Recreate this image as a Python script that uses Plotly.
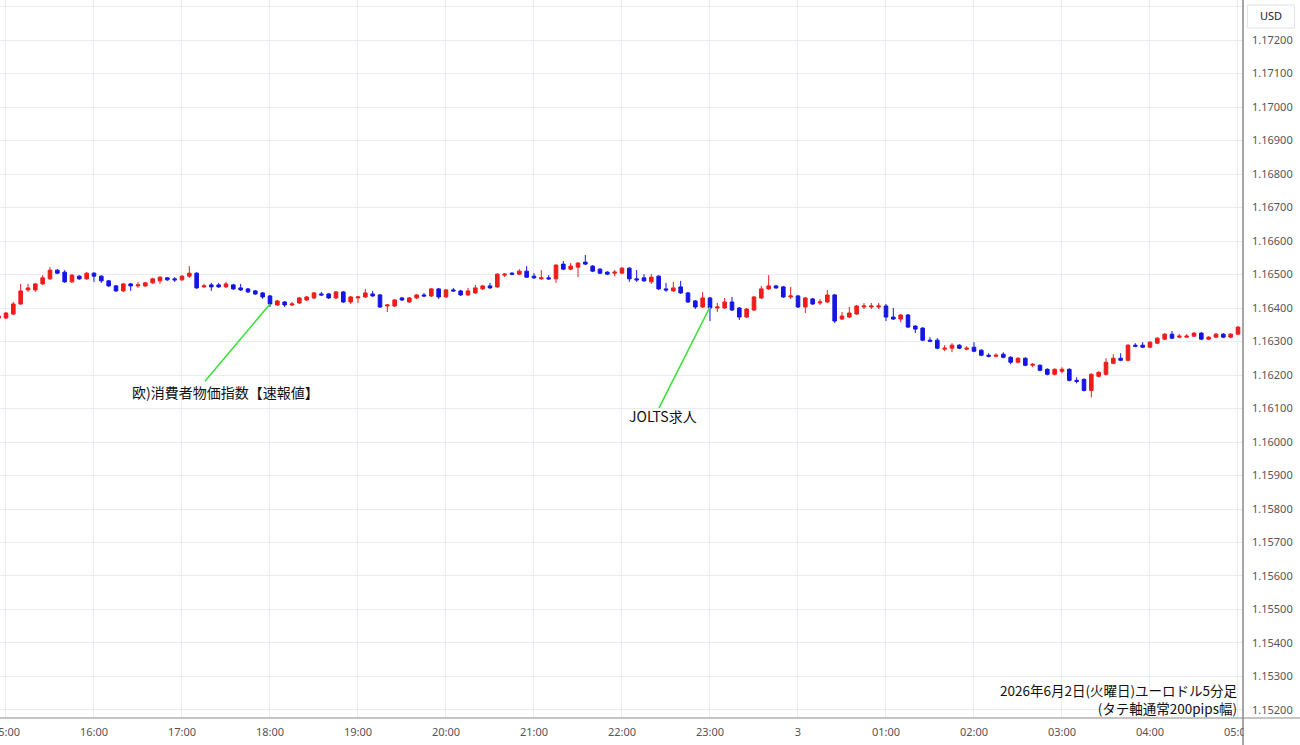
import plotly.graph_objects as go
import pandas as pd

# ---------------- data (EUR/USD 5-minute candles, 2026-06-02 14:55 -> 06-03 05:00)
start_time = "2026-06-02 14:55"

opens = [
    1.16370, 1.16370, 1.16382, 1.16412, 1.16454, 1.16454, 1.16472, 1.16487, 1.16513, 1.16507,
    1.16478, 1.16495, 1.16487, 1.16504, 1.16495, 1.16481, 1.16466, 1.16451, 1.16472, 1.16466,
    1.16466, 1.16475, 1.16481, 1.16490, 1.16487, 1.16484, 1.16495, 1.16504, 1.16463, 1.16469,
    1.16469, 1.16463, 1.16469, 1.16460, 1.16457, 1.16451, 1.16445, 1.16436, 1.16409, 1.16418,
    1.16409, 1.16415, 1.16424, 1.16430, 1.16442, 1.16442, 1.16430, 1.16448, 1.16418, 1.16430,
    1.16433, 1.16442, 1.16439, 1.16406, 1.16406, 1.16430, 1.16418, 1.16430, 1.16439, 1.16436,
    1.16457, 1.16433, 1.16454, 1.16451, 1.16439, 1.16445, 1.16457, 1.16466, 1.16463, 1.16498,
    1.16504, 1.16501, 1.16510, 1.16495, 1.16487, 1.16490, 1.16487, 1.16531, 1.16516, 1.16522,
    1.16537, 1.16525, 1.16516, 1.16507, 1.16504, 1.16504, 1.16519, 1.16487, 1.16490, 1.16478,
    1.16495, 1.16457, 1.16451, 1.16463, 1.16445, 1.16421, 1.16403, 1.16430, 1.16400, 1.16400,
    1.16418, 1.16400, 1.16373, 1.16394, 1.16430, 1.16457, 1.16466, 1.16463, 1.16433, 1.16436,
    1.16403, 1.16427, 1.16415, 1.16418, 1.16439, 1.16367, 1.16373, 1.16382, 1.16403, 1.16403,
    1.16403, 1.16406, 1.16373, 1.16367, 1.16379, 1.16346, 1.16340, 1.16304, 1.16304, 1.16277,
    1.16280, 1.16289, 1.16277, 1.16283, 1.16274, 1.16259, 1.16256, 1.16262, 1.16253, 1.16238,
    1.16250, 1.16229, 1.16229, 1.16217, 1.16202, 1.16211, 1.16217, 1.16184, 1.16187, 1.16154,
    1.16196, 1.16202, 1.16235, 1.16250, 1.16244, 1.16289, 1.16289, 1.16283, 1.16295, 1.16307,
    1.16322, 1.16313, 1.16313, 1.16316, 1.16325, 1.16307, 1.16313, 1.16322, 1.16313, 1.16322,
]

highs = [
    1.16379, 1.16388, 1.16418, 1.16472, 1.16472, 1.16475, 1.16498, 1.16522, 1.16516, 1.16513,
    1.16501, 1.16498, 1.16507, 1.16507, 1.16498, 1.16484, 1.16469, 1.16475, 1.16475, 1.16478,
    1.16478, 1.16490, 1.16495, 1.16492, 1.16492, 1.16498, 1.16525, 1.16507, 1.16472, 1.16475,
    1.16475, 1.16478, 1.16472, 1.16472, 1.16460, 1.16454, 1.16448, 1.16439, 1.16424, 1.16421,
    1.16418, 1.16433, 1.16436, 1.16448, 1.16448, 1.16445, 1.16451, 1.16451, 1.16436, 1.16436,
    1.16457, 1.16451, 1.16442, 1.16412, 1.16427, 1.16433, 1.16433, 1.16442, 1.16445, 1.16460,
    1.16460, 1.16457, 1.16460, 1.16454, 1.16460, 1.16469, 1.16469, 1.16475, 1.16504, 1.16504,
    1.16507, 1.16516, 1.16525, 1.16504, 1.16513, 1.16498, 1.16531, 1.16540, 1.16534, 1.16537,
    1.16558, 1.16528, 1.16519, 1.16510, 1.16513, 1.16522, 1.16522, 1.16513, 1.16501, 1.16501,
    1.16498, 1.16475, 1.16478, 1.16481, 1.16448, 1.16424, 1.16448, 1.16433, 1.16415, 1.16430,
    1.16433, 1.16403, 1.16400, 1.16436, 1.16466, 1.16498, 1.16469, 1.16466, 1.16463, 1.16439,
    1.16433, 1.16430, 1.16427, 1.16454, 1.16442, 1.16388, 1.16403, 1.16409, 1.16415, 1.16415,
    1.16415, 1.16412, 1.16400, 1.16382, 1.16382, 1.16349, 1.16343, 1.16313, 1.16310, 1.16289,
    1.16295, 1.16292, 1.16286, 1.16298, 1.16277, 1.16265, 1.16265, 1.16268, 1.16256, 1.16253,
    1.16253, 1.16235, 1.16232, 1.16220, 1.16220, 1.16223, 1.16220, 1.16193, 1.16190, 1.16205,
    1.16211, 1.16250, 1.16262, 1.16265, 1.16292, 1.16295, 1.16298, 1.16301, 1.16313, 1.16325,
    1.16331, 1.16322, 1.16322, 1.16328, 1.16328, 1.16316, 1.16325, 1.16325, 1.16325, 1.16346,
]

lows = [
    1.16367, 1.16367, 1.16379, 1.16409, 1.16448, 1.16448, 1.16469, 1.16484, 1.16501, 1.16475,
    1.16475, 1.16484, 1.16484, 1.16478, 1.16475, 1.16463, 1.16448, 1.16448, 1.16451, 1.16460,
    1.16463, 1.16472, 1.16472, 1.16481, 1.16478, 1.16481, 1.16490, 1.16457, 1.16460, 1.16451,
    1.16460, 1.16460, 1.16454, 1.16451, 1.16445, 1.16439, 1.16427, 1.16403, 1.16406, 1.16403,
    1.16406, 1.16412, 1.16421, 1.16427, 1.16436, 1.16427, 1.16427, 1.16415, 1.16412, 1.16415,
    1.16430, 1.16433, 1.16400, 1.16388, 1.16403, 1.16421, 1.16415, 1.16427, 1.16433, 1.16433,
    1.16427, 1.16430, 1.16448, 1.16436, 1.16436, 1.16442, 1.16454, 1.16457, 1.16460, 1.16492,
    1.16498, 1.16498, 1.16490, 1.16487, 1.16484, 1.16484, 1.16475, 1.16513, 1.16513, 1.16492,
    1.16528, 1.16507, 1.16501, 1.16498, 1.16495, 1.16501, 1.16478, 1.16478, 1.16478, 1.16472,
    1.16454, 1.16448, 1.16448, 1.16442, 1.16415, 1.16397, 1.16400, 1.16361, 1.16388, 1.16397,
    1.16391, 1.16364, 1.16370, 1.16391, 1.16427, 1.16454, 1.16457, 1.16430, 1.16427, 1.16400,
    1.16385, 1.16409, 1.16409, 1.16415, 1.16355, 1.16364, 1.16370, 1.16379, 1.16397, 1.16397,
    1.16397, 1.16361, 1.16364, 1.16358, 1.16340, 1.16325, 1.16301, 1.16298, 1.16277, 1.16271,
    1.16268, 1.16277, 1.16274, 1.16268, 1.16256, 1.16253, 1.16253, 1.16250, 1.16232, 1.16235,
    1.16226, 1.16223, 1.16211, 1.16199, 1.16199, 1.16205, 1.16181, 1.16175, 1.16151, 1.16133,
    1.16193, 1.16199, 1.16232, 1.16241, 1.16241, 1.16283, 1.16280, 1.16280, 1.16292, 1.16304,
    1.16307, 1.16310, 1.16313, 1.16313, 1.16304, 1.16304, 1.16310, 1.16310, 1.16310, 1.16319,
]

closes = [
    1.16376, 1.16385, 1.16412, 1.16451, 1.16460, 1.16472, 1.16490, 1.16513, 1.16504, 1.16478,
    1.16498, 1.16487, 1.16504, 1.16495, 1.16481, 1.16466, 1.16451, 1.16472, 1.16466, 1.16469,
    1.16475, 1.16487, 1.16492, 1.16484, 1.16484, 1.16495, 1.16504, 1.16460, 1.16466, 1.16463,
    1.16463, 1.16472, 1.16457, 1.16454, 1.16448, 1.16442, 1.16433, 1.16412, 1.16421, 1.16409,
    1.16412, 1.16430, 1.16433, 1.16445, 1.16439, 1.16430, 1.16448, 1.16418, 1.16433, 1.16433,
    1.16445, 1.16436, 1.16403, 1.16409, 1.16424, 1.16424, 1.16430, 1.16439, 1.16436, 1.16457,
    1.16433, 1.16454, 1.16451, 1.16439, 1.16451, 1.16460, 1.16466, 1.16460, 1.16501, 1.16501,
    1.16501, 1.16510, 1.16492, 1.16490, 1.16490, 1.16487, 1.16528, 1.16516, 1.16525, 1.16534,
    1.16531, 1.16510, 1.16504, 1.16501, 1.16507, 1.16519, 1.16487, 1.16484, 1.16481, 1.16492,
    1.16457, 1.16454, 1.16460, 1.16445, 1.16418, 1.16403, 1.16430, 1.16400, 1.16403, 1.16418,
    1.16394, 1.16373, 1.16397, 1.16433, 1.16457, 1.16466, 1.16460, 1.16433, 1.16436, 1.16403,
    1.16430, 1.16412, 1.16418, 1.16439, 1.16361, 1.16376, 1.16385, 1.16406, 1.16406, 1.16406,
    1.16406, 1.16373, 1.16367, 1.16379, 1.16343, 1.16337, 1.16304, 1.16301, 1.16280, 1.16280,
    1.16289, 1.16280, 1.16280, 1.16271, 1.16259, 1.16256, 1.16259, 1.16253, 1.16238, 1.16250,
    1.16229, 1.16232, 1.16214, 1.16202, 1.16217, 1.16217, 1.16184, 1.16181, 1.16154, 1.16202,
    1.16208, 1.16238, 1.16250, 1.16244, 1.16289, 1.16286, 1.16283, 1.16298, 1.16310, 1.16322,
    1.16310, 1.16316, 1.16316, 1.16325, 1.16307, 1.16313, 1.16322, 1.16313, 1.16322, 1.16343,
]

# x-axis ticks
tick_times = [
    "2026-06-02 15:00", "2026-06-02 16:00", "2026-06-02 17:00", "2026-06-02 18:00",
    "2026-06-02 19:00", "2026-06-02 20:00", "2026-06-02 21:00", "2026-06-02 22:00",
    "2026-06-02 23:00", "2026-06-03 00:00", "2026-06-03 01:00", "2026-06-03 02:00",
    "2026-06-03 03:00", "2026-06-03 04:00", "2026-06-03 05:00",
]
tick_labels = ["15:00", "16:00", "17:00", "18:00", "19:00", "20:00", "21:00", "22:00",
               "23:00", "3", "01:00", "02:00", "03:00", "04:00", "05:00"]

# event annotations
event_labels = ["欧)消費者物価指数【速報値】", "JOLTS求人"]
event_line_x0 = ["2026-06-02 18:00", "2026-06-02 23:00"]
event_line_y0 = [1.16412, 1.16403]
event_line_x1 = ["2026-06-02 17:15:40", "2026-06-02 22:25:15"]
event_line_y1 = [1.16181, 1.16102]
event_text_x = ["2026-06-02 17:29:20", "2026-06-02 22:28:00"]
event_text_y = [1.16148, 1.16078]

caption_lines = ["2026年6月2日(火曜日)ユーロドル5分足", "(タテ軸通常200pips幅)"]

assert len(opens) == len(highs) == len(lows) == len(closes)
times = pd.date_range(start_time, periods=len(opens), freq="5min")

RED = "#f01c1c"
BLUE = "#1515e8"
GRID = "#e6ecf2"

fig = go.Figure()
fig.add_trace(go.Candlestick(
    x=times, open=opens, high=highs, low=lows, close=closes,
    increasing=dict(line=dict(color=RED, width=1), fillcolor=RED),
    decreasing=dict(line=dict(color=BLUE, width=1), fillcolor=BLUE),
    whiskerwidth=0, showlegend=False, hoverinfo="skip",
))

shapes = []
for i in range(len(event_labels)):
    shapes.append(dict(type="line", xref="x", yref="y",
                       x0=event_line_x0[i], y0=event_line_y0[i],
                       x1=event_line_x1[i], y1=event_line_y1[i],
                       line=dict(color="#3be03b", width=1.6), layer="above"))

# mask overflow of last x tick label under right price panel
shapes.append(dict(type="rect", xref="paper", yref="paper", x0=1.0005, x1=1.06,
                   y0=-0.05, y1=0, fillcolor="white", line=dict(width=0), layer="above"))
# vertical price-axis separator running to the bottom
shapes.append(dict(type="line", xref="paper", yref="paper", x0=1.0, x1=1.0,
                   y0=-0.04, y1=1.0, line=dict(color="#6b6b6b", width=1.2), layer="above"))
# bottom time-axis line running across
shapes.append(dict(type="line", xref="paper", yref="paper", x0=0, x1=1.05,
                   y0=0, y1=0, line=dict(color="#8a8a8a", width=1.2), layer="above"))
# USD box
shapes.append(dict(type="rect", xref="paper", yref="paper", x0=1.0035, x1=1.0415,
                   y0=0.961, y1=0.993, line=dict(color="#e2e2e2", width=1), fillcolor="white"))

annotations = []
for i in range(len(event_labels)):
    annotations.append(dict(x=event_text_x[i], y=event_text_y[i], xref="x", yref="y",
                            text=event_labels[i], showarrow=False,
                            font=dict(family="Noto Sans CJK JP", size=14, color="#111"),
                            xanchor="center", yanchor="middle"))
annotations.append(dict(x=0.9978, y=(718 - 699) / 718, xref="paper", yref="paper",
                        text="<br>".join(caption_lines), showarrow=False,
                        xanchor="right", yanchor="middle", align="right",
                        font=dict(family="Noto Sans CJK JP", size=13.5, color="#111")))
annotations.append(dict(x=1.0225, y=(718 - 16) / 718, xref="paper", yref="paper",
                        text="USD", showarrow=False, xanchor="center", yanchor="middle",
                        font=dict(family="Noto Sans", size=11, color="#222")))

fig.update_layout(
    width=1300, height=745,
    margin=dict(l=0, r=57, t=0, b=27, pad=0, autoexpand=False),
    paper_bgcolor="white", plot_bgcolor="white",
    shapes=shapes, annotations=annotations,
    xaxis=dict(
        type="date", automargin=False,
        range=["2026-06-02 14:55:55", "2026-06-03 05:03:25"],
        tickvals=tick_times, ticktext=tick_labels,
        showgrid=True, gridcolor=GRID, gridwidth=1,
        rangeslider=dict(visible=False),
        showline=False, zeroline=False, ticks="",
        tickfont=dict(family="Noto Sans", size=11, color="#555"),
        ticklabeloverflow="allow",
        ticklabelstandoff=6,
    ),
    yaxis=dict(
        side="right", automargin=False,
        range=[1.151761, 1.173194],
        tick0=1.152, dtick=0.001, tickformat=".5f",
        showgrid=True, gridcolor=GRID, gridwidth=1,
        showline=False, zeroline=False, ticks="",
        tickfont=dict(family="Noto Sans", size=11, color="#555"),
        ticklabelstandoff=8,
    ),
)

fig.write_html("out.html")
